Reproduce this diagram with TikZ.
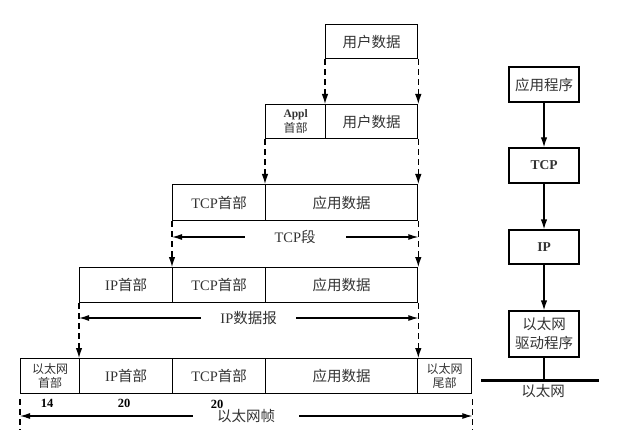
\documentclass[tikz,border=0pt]{standalone}
\usepackage{fontspec}
\setmainfont{Liberation Serif}
\newfontfamily\cjk{Noto Sans CJK SC}
\usetikzlibrary{arrows.meta}
\newcommand\zh[1]{{\cjk #1}}
\begin{document}
\begin{tikzpicture}[x=1pt,y=-1pt,
  cell/.style={draw, line width=1.3pt, inner sep=0pt, anchor=north west, align=center,
    text=black!80, font=\fontsize{14.5}{16}\selectfont},
  smallcell/.style={cell, font=\fontsize{12}{13.5}\selectfont},
  stackbox/.style={draw, line width=1.3pt, inner sep=0pt, minimum width=70pt, align=center,
    text=black!80, font=\fontsize{14.5}{19}\selectfont},
  dasharrow/.style={line width=1.1pt, dash pattern=on 6pt off 4pt, -{Latex[length=10pt,width=6.5pt]}},
  dashline/.style={line width=1.1pt, dash pattern=on 6pt off 4pt},
  dimarrow/.style={line width=1.1pt, {Latex[length=10pt,width=6pt]}-{Latex[length=10pt,width=6pt]}},
  dimlabel/.style={fill=white, inner ysep=0pt, text=black!80, font=\fontsize{14.5}{16}\selectfont},
  solidarrow/.style={line width=1.3pt, -{Latex[length=10pt,width=6.5pt]}},
  num/.style={font=\fontsize{12.5}{13}\selectfont\bfseries, inner sep=0pt}
]
\useasboundingbox (0,0) rectangle (620,430);

% row 1
\node[cell, minimum width=92pt, minimum height=34pt] (u1) at (325,24) {\zh{用户数据}};
% row 2
\node[cell, minimum width=60pt, minimum height=34pt] (a2) at (265,104)
  {{\fontsize{11.5}{11}\selectfont\bfseries Appl}\\[-1pt]{\fontsize{12}{12}\selectfont\zh{首部}}};
\node[cell, minimum width=92pt, minimum height=34pt] (u2) at (325,104) {\zh{用户数据}};
% row 3
\node[cell, minimum width=93pt, minimum height=36pt] (t3) at (172,184) {TCP\zh{首部}};
\node[cell, minimum width=152pt, minimum height=36pt] (d3) at (265,184) {\zh{应用数据}};
% row 4
\node[cell, minimum width=93pt, minimum height=35pt] (i4) at (79,267) {IP\zh{首部}};
\node[cell, minimum width=93pt, minimum height=35pt] (t4) at (172,267) {TCP\zh{首部}};
\node[cell, minimum width=152pt, minimum height=35pt] (d4) at (265,267) {\zh{应用数据}};
% row 5
\node[smallcell, minimum width=59pt, minimum height=35pt] (e5) at (20,358) {\zh{以太网}\\\zh{首部}};
\node[cell, minimum width=93pt, minimum height=35pt] (i5) at (79,358) {IP\zh{首部}};
\node[cell, minimum width=93pt, minimum height=35pt] (t5) at (172,358) {TCP\zh{首部}};
\node[cell, minimum width=152pt, minimum height=35pt] (d5) at (265,358) {\zh{应用数据}};
\node[smallcell, minimum width=54pt, minimum height=35pt] (f5) at (417,358) {\zh{以太网}\\\zh{尾部}};

% dashed arrows between rows
\draw[dasharrow] (u1.south west) -- (u1.south west |- a2.north);
\draw[dasharrow] (u1.south east) -- (u1.south east |- u2.north);
\draw[dasharrow] (a2.south west) -- (a2.south west |- t3.north);
\draw[dasharrow] (u2.south east) -- (u2.south east |- d3.north);
\draw[dasharrow] (t3.south west) -- (t3.south west |- t4.north);
\draw[dasharrow] (d3.south east) -- (d3.south east |- d4.north);
\draw[dasharrow] (i4.south west) -- (i4.south west |- e5.north);
\draw[dasharrow] (d4.south east) -- (d4.south east |- d5.north);
\coordinate (bottom) at (0,432);
\draw[dashline] (e5.south west) ++(0,5) -- (e5.south west |- bottom);
\draw[dashline] (f5.south east) ++(0,5) -- (f5.south east |- bottom);

% dimension arrows
\coordinate (tcpy) at (0,237);
\coordinate (ipy) at (0,318);
\coordinate (ethy) at (0,416);
\draw[dimarrow] (t3.south west |- tcpy) -- (d3.south east |- tcpy)
  node[dimlabel, midway, inner xsep=30pt] (ltcp) {TCP\zh{段}};
\draw[dimarrow] (i4.south west |- ipy) -- (d4.south east |- ipy)
  node[dimlabel, midway, inner xsep=19pt] (lip) {IP\zh{数据报}};
\draw[dimarrow] (e5.south west |- ethy) -- (f5.south east |- ethy)
  node[dimlabel, midway, inner xsep=24pt] (leth) {\zh{以太网帧}};

% sizes
\node[num] (n1) at (47,403) {14};
\node[num] (n2) at (124,403) {20};
\node[num] (n3) at (217,404) {20};

% protocol stack
\node[stackbox, minimum height=35pt] (app) at (544,84.5) {\zh{应用程序}};
\node[stackbox, minimum height=35pt, font=\fontsize{13.5}{15}\selectfont\bfseries] (tcp) at (544,165.5) {TCP};
\node[stackbox, minimum height=34pt, font=\fontsize{13.5}{15}\selectfont\bfseries] (ip) at (544,247) {IP};
\node[stackbox, minimum height=46pt] (drv) at (544,334) {\zh{以太网}\\\zh{驱动程序}};
\coordinate (gl) at (481,380);
\coordinate (gr) at (599,380);
\draw[line width=3pt] (gl) -- (gr);
\draw[solidarrow] (app) -- (tcp);
\draw[solidarrow] (tcp) -- (ip);
\draw[solidarrow] (ip) -- (drv);
\draw[line width=1.3pt] (drv.south) -- (drv.south |- gl);
\node[text=black!80, font=\fontsize{14.5}{16}\selectfont, inner sep=0pt] (eth) at (543,391) {\zh{以太网}};
\end{tikzpicture}
\end{document}
